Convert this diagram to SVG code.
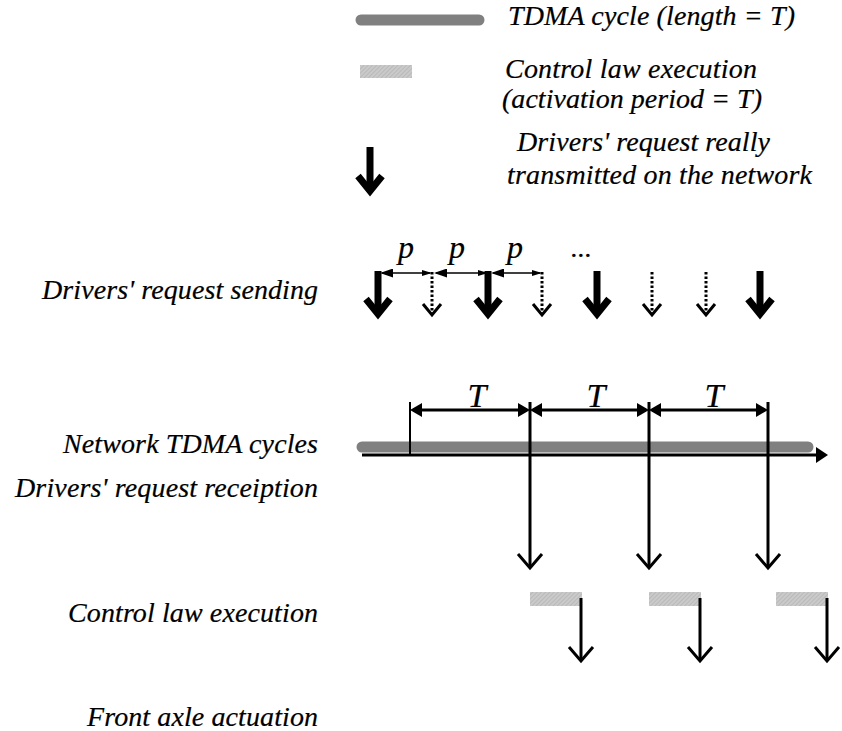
<svg xmlns="http://www.w3.org/2000/svg" width="842" height="731" viewBox="0 0 842 731">
<style>
text{font-family:"Liberation Serif","Times New Roman",Times,serif;font-style:italic;fill:#000;stroke:#000;stroke-width:0.2;}
.lbl{font-size:28px;}
.sym{font-size:32px;}
.big{font-size:34px;}
.tdma{stroke:#808080;stroke-width:11;stroke-linecap:round;fill:none;}
.cl{fill:url(#hatch);}
.thick{stroke:#000;stroke-width:7;fill:none;marker-end:url(#chevThick);}
.dotted{stroke:#000;stroke-width:3;stroke-dasharray:2.5 2;fill:none;marker-end:url(#chevDot);}
.thin{stroke:#000;stroke-width:3;fill:none;marker-end:url(#chevThin);}
.tick{stroke:#000;stroke-width:2;fill:none;}
.dim{stroke:#000;stroke-width:3;fill:none;marker-start:url(#dimHead);marker-end:url(#dimHead);}
.per{stroke:#000;stroke-width:1.5;fill:none;marker-start:url(#pBig);marker-end:url(#pSmall);}
</style>
<defs>
<pattern id="hatch" width="3" height="3" patternUnits="userSpaceOnUse" patternTransform="rotate(45)">
<rect width="3" height="3" fill="#cacaca"/>
<line x1="0" y1="0" x2="0" y2="3" stroke="#a9a9a9" stroke-width="1"/>
</pattern>
<marker id="chevThick" markerUnits="userSpaceOnUse" viewBox="-25 -25 50 50" markerWidth="50" markerHeight="50" refX="0" refY="0" orient="auto">
<path d="M-15,-12 L0,0 L-15,12" fill="none" stroke="#000" stroke-width="7"/>
</marker>
<marker id="chevDot" markerUnits="userSpaceOnUse" viewBox="-20 -20 40 40" markerWidth="40" markerHeight="40" refX="0" refY="0" orient="auto">
<path d="M-11,-9 L0,0 L-11,9" fill="none" stroke="#000" stroke-width="3"/>
</marker>
<marker id="chevThin" markerUnits="userSpaceOnUse" viewBox="-20 -20 40 40" markerWidth="40" markerHeight="40" refX="0" refY="0" orient="auto">
<path d="M-14,-12 L0,0 L-14,12" fill="none" stroke="#000" stroke-width="3"/>
</marker>
<marker id="dimHead" markerUnits="userSpaceOnUse" viewBox="0 0 12 14" markerWidth="12" markerHeight="14" refX="9" refY="7" orient="auto-start-reverse">
<path d="M0,0 L12,7 L0,14 Z" fill="#000"/>
</marker>
<marker id="axisHead" markerUnits="userSpaceOnUse" viewBox="0 0 12 16" markerWidth="12" markerHeight="16" refX="2" refY="8" orient="auto">
<path d="M0,0 L12,8 L0,16 Z" fill="#000"/>
</marker>
<marker id="pBig" markerUnits="userSpaceOnUse" viewBox="0 0 13 9" markerWidth="13" markerHeight="9" refX="11" refY="4.5" orient="auto-start-reverse">
<path d="M0,0 L13,4.5 L0,9 Z" fill="#000"/>
</marker>
<marker id="pSmall" markerUnits="userSpaceOnUse" viewBox="0 0 10 6" markerWidth="10" markerHeight="6" refX="8" refY="3" orient="auto">
<path d="M0,0 L10,3 L0,6 Z" fill="#000"/>
</marker>
</defs>

<g id="legend">
<g id="legend-tdma">
<line class="tdma" x1="361" y1="20" x2="479" y2="20"/>
<text class="lbl" x="508" y="25" textLength="287" lengthAdjust="spacing">TDMA cycle (length = T)</text>
</g>
<g id="legend-control">
<rect class="cl" x="360" y="65" width="52" height="13"/>
<text class="lbl" x="505" y="78" textLength="252" lengthAdjust="spacing">Control law execution</text>
<text class="lbl" x="502" y="108" textLength="260" lengthAdjust="spacing">(activation period = T)</text>
</g>
<g id="legend-request">
<line class="thick" x1="370" y1="147" x2="370" y2="191"/>
<text class="lbl" x="517" y="151" textLength="253" lengthAdjust="spacing">Drivers' request really</text>
<text class="lbl" x="507" y="184" textLength="305" lengthAdjust="spacing">transmitted on the network</text>
</g>
</g>

<g id="row-labels">
<text id="lbl-sending" class="lbl" x="42" y="299" textLength="276" lengthAdjust="spacing">Drivers' request sending</text>
<text id="lbl-tdma" class="lbl" x="63" y="453" textLength="255" lengthAdjust="spacing">Network TDMA cycles</text>
<text id="lbl-reception" class="lbl" x="15" y="497" textLength="303" lengthAdjust="spacing">Drivers' request receiption</text>
<text id="lbl-control" class="lbl" x="68" y="622" textLength="250" lengthAdjust="spacing">Control law execution</text>
<text id="lbl-actuation" class="lbl" x="87" y="726" textLength="231" lengthAdjust="spacing">Front axle actuation</text>
</g>

<g id="sending-row">
<text class="sym" x="406" y="258" text-anchor="middle">p</text>
<text class="sym" x="457" y="258" text-anchor="middle">p</text>
<text class="sym" x="515" y="258" text-anchor="middle">p</text>
<text class="lbl" x="571" y="257" textLength="21" lengthAdjust="spacing">...</text>
</g>

<g id="tdma-row">
<line class="tdma" x1="362" y1="447" x2="808" y2="447"/>
<text class="big" x="477" y="407" text-anchor="middle">T</text>
<text class="big" x="596" y="407" text-anchor="middle">T</text>
<text class="big" x="714" y="407" text-anchor="middle">T</text>
</g>

<g id="control-row">
<rect class="cl" x="530" y="592" width="52" height="14"/>
<rect class="cl" x="649" y="592" width="52" height="14"/>
<rect class="cl" x="776" y="592" width="52" height="14"/>
</g>

<g id="connectors">
<line class="thick" x1="378" y1="271" x2="378" y2="314"/>
<line class="dotted" x1="432" y1="272" x2="432" y2="315"/>
<line class="thick" x1="488" y1="271" x2="488" y2="314"/>
<line class="dotted" x1="542" y1="272" x2="542" y2="315"/>
<line class="thick" x1="597" y1="271" x2="597" y2="314"/>
<line class="dotted" x1="652" y1="272" x2="652" y2="315"/>
<line class="dotted" x1="706" y1="272" x2="706" y2="315"/>
<line class="thick" x1="760" y1="271" x2="760" y2="314"/>
<line class="per" x1="382" y1="273" x2="430" y2="273"/>
<line class="per" x1="436" y1="273" x2="486" y2="273"/>
<line class="per" x1="493" y1="273" x2="540" y2="273" stroke-width="3"/>
<line x1="362" y1="455" x2="818" y2="455" stroke="#000" stroke-width="3" marker-end="url(#axisHead)"/>
<line class="tick" x1="410" y1="402" x2="410" y2="455"/>
<line class="dim" x1="413" y1="410" x2="527" y2="410"/>
<line class="dim" x1="533" y1="410" x2="646" y2="410"/>
<line class="dim" x1="652" y1="410" x2="765" y2="410"/>
<line class="thin" x1="530" y1="402" x2="530" y2="568"/>
<line class="thin" x1="649" y1="402" x2="649" y2="568"/>
<line class="thin" x1="768" y1="402" x2="768" y2="568"/>
<line class="thin" x1="581" y1="598" x2="581" y2="661"/>
<line class="thin" x1="700" y1="598" x2="700" y2="661"/>
<line class="thin" x1="827" y1="598" x2="827" y2="661"/>
</g>
</svg>
